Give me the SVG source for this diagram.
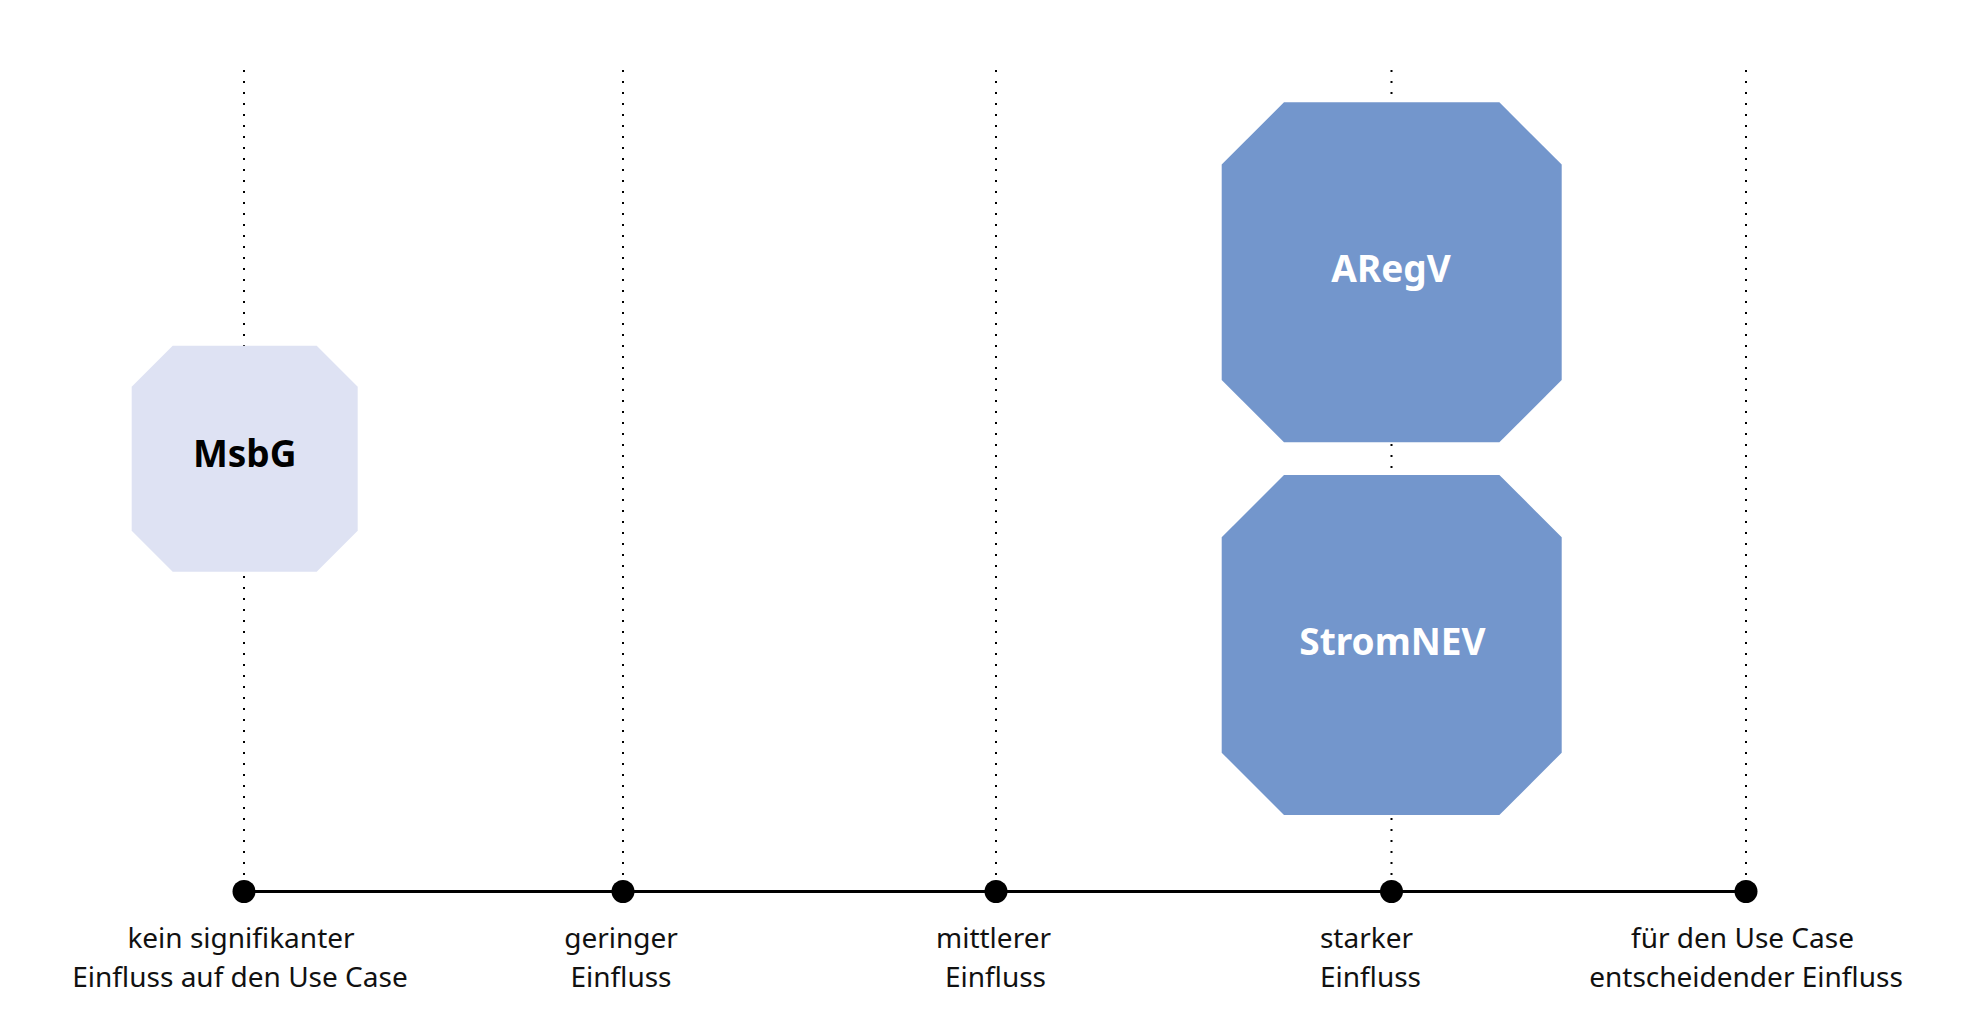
<svg xmlns="http://www.w3.org/2000/svg" width="1984" height="1009" viewBox="0 0 1984 1009">
<style>
.guide{stroke:#000;stroke-width:2;stroke-dasharray:2 9;fill:none}
.axis{stroke:#000;stroke-width:3;fill:none}
.tick{fill:#000}
.lbl{font-family:"Noto Sans","Liberation Sans",sans-serif;font-size:28px;fill:#111;text-anchor:middle}
.nlbl{font-family:"Noto Sans","Liberation Sans",sans-serif;font-size:37px;font-weight:bold;text-anchor:middle}
.light{fill:#DEE2F3}
.blue{fill:#7396CC}
</style>
<rect width="1984" height="1009" fill="#fff"/>
<g id="connectors">
<line class="guide" x1="244" y1="70" x2="244" y2="880"/>
<line class="guide" x1="623" y1="70" x2="623" y2="880"/>
<line class="guide" x1="996" y1="70" x2="996" y2="880"/>
<line class="guide" x1="1391.5" y1="70" x2="1391.5" y2="880"/>
<line class="guide" x1="1746" y1="70" x2="1746" y2="880"/>
<line class="axis" x1="244" y1="891.5" x2="1746" y2="891.5"/>
</g>
<g id="scale-points">
<g id="p0"><circle class="tick" cx="244" cy="891.5" r="11.5"/><text class="lbl" x="241" y="947.5">kein signifikanter</text><text class="lbl" x="240" y="986.5">Einfluss auf den Use Case</text></g>
<g id="p1"><circle class="tick" cx="623" cy="891.5" r="11.5"/><text class="lbl" x="621" y="947.5">geringer</text><text class="lbl" x="621" y="986.5">Einfluss</text></g>
<g id="p2"><circle class="tick" cx="996" cy="891.5" r="11.5"/><text class="lbl" x="993.5" y="947.5">mittlerer</text><text class="lbl" x="995.5" y="986.5">Einfluss</text></g>
<g id="p3"><circle class="tick" cx="1391.5" cy="891.5" r="11.5"/><text class="lbl" x="1366.5" y="947.5">starker</text><text class="lbl" x="1370.5" y="986.5">Einfluss</text></g>
<g id="p4"><circle class="tick" cx="1746" cy="891.5" r="11.5"/><text class="lbl" x="1742.5" y="947.5">für den Use Case</text><text class="lbl" x="1746" y="986.5">entscheidender Einfluss</text></g>
</g>
<g id="node-msbg">
<polygon class="light" points="172.7,345.7 316.7,345.7 357.7,386.7 357.7,530.7 316.7,571.7 172.7,571.7 131.7,530.7 131.7,386.7"/>
<text class="nlbl" x="244.7" y="467.3" fill="#000">MsbG</text>
</g>
<g id="node-aregv">
<polygon class="blue" points="1284,102.3 1499.4,102.3 1561.7,164.6 1561.7,380 1499.4,442.3 1284,442.3 1221.7,380 1221.7,164.6"/>
<text class="nlbl" x="1391" y="281.7" fill="#fff">ARegV</text>
</g>
<g id="node-stromnev">
<polygon class="blue" points="1284,475 1499.4,475 1561.7,537.3 1561.7,752.7 1499.4,815 1284,815 1221.7,752.7 1221.7,537.3"/>
<text class="nlbl" x="1392.5" y="655" fill="#fff">StromNEV</text>
</g>
</svg>
